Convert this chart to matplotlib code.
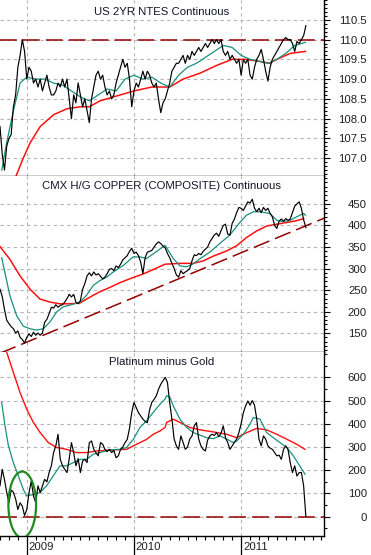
import numpy as np
import matplotlib
matplotlib.use('Agg')
import matplotlib.pyplot as plt
from matplotlib.patches import Ellipse
from matplotlib.ticker import MultipleLocator
import matplotlib.transforms as mtransforms

plt.rcParams['font.family'] = ['Liberation Sans', 'DejaVu Sans']

# x axis: months since 1 Oct 2008, weekly closes
weeks = np.arange(138) * 0.25

notes = [107.8, 107.1, 106.7, 107.3, 107.5, 107.6, 108.3, 108.6,
         109.3, 109.6, 110.0, 109.7, 109.0, 109.3, 109.2, 108.9,
         109.0, 108.8, 109.0, 108.7, 108.9, 109.1, 108.8, 108.6,
         108.6, 108.7, 108.9, 108.8, 109.0, 108.8, 109.0, 108.5,
         108.0, 108.6, 108.4, 108.9, 108.6, 108.3, 108.5, 108.2,
         107.9, 108.5, 108.8, 109.1, 109.2, 109.0, 109.1, 108.8,
         108.6, 108.7, 108.5, 108.6, 108.9, 109.1, 109.3, 109.5,
         109.3, 109.4, 109.0, 108.3, 108.7, 108.9, 108.8, 109.0,
         109.2, 109.0, 109.2, 109.1, 108.9, 108.8, 108.9, 108.5,
         108.15, 108.4, 108.5, 108.7, 108.9, 109.2, 109.3, 109.4,
         109.4, 109.5, 109.6, 109.4, 109.6, 109.5, 109.7, 109.6,
         109.7, 109.8, 109.7, 109.8, 109.9, 109.8, 109.9, 110.0,
         109.9, 110.0, 109.9, 110.0, 109.7, 109.6, 109.7, 109.5,
         109.6, 109.5, 109.4, 109.5, 109.1, 109.5, 109.4, 109.5,
         109.1, 109.0, 109.3, 109.5, 109.6, 109.75, 109.5, 109.2,
         108.95, 109.3, 109.5, 109.6, 109.7, 109.8, 109.9, 110.0,
         110.05, 110.0, 110.0, 109.9, 109.7, 109.95, 109.9, 110.0,
         110.1, 110.35]
notes_ma_fast_m = [0.2, 0.75, 1.5, 2.25, 3, 4, 5, 6, 7, 8, 9, 10, 11, 12, 13, 14, 15, 16, 17,
                   18, 19, 20, 21, 22, 23, 24, 25, 26, 27, 28, 29, 30, 31, 32, 33, 34.2]
notes_ma_fast = [106.7, 107.4, 108.2, 108.9, 109.05, 109.0, 109.0, 108.9, 108.85, 108.7,
                 108.55, 108.45, 108.6, 108.75, 108.7, 109.0, 109.1, 109.0, 109.05, 108.9,
                 108.8, 109.1, 109.3, 109.4, 109.55, 109.7, 109.85, 109.8, 109.6, 109.5,
                 109.45, 109.4, 109.5, 109.65, 109.85, 109.93]
notes_ma_slow_m = [1.8, 2.6, 3.4, 4.5, 6, 7.5, 9, 10, 11.2, 12.7, 15, 17, 18.5, 19, 20.5,
                   22.4, 24.3, 26, 27.5, 29, 30.2, 31, 32.5, 34.2]
notes_ma_slow = [106.55, 107.0, 107.4, 107.8, 108.1, 108.25, 108.3, 108.3, 108.45, 108.55,
                 108.7, 108.8, 108.8, 108.8, 109.0, 109.15, 109.35, 109.5, 109.5, 109.45,
                 109.4, 109.5, 109.65, 109.7]

copper = [252, 235, 205, 180, 172, 165, 160, 150, 155, 140, 135, 127, 140, 148, 142, 152,
          145, 150, 145, 150, 175, 182, 195, 210, 208, 216, 210, 214, 216, 222, 230, 240,
          234, 240, 222, 218, 225, 252, 265, 283, 290, 283, 292, 285, 288, 282, 276, 280,
          288, 298, 300, 295, 306, 302, 310, 320, 325, 330, 340, 347, 335, 338, 330, 315,
          288, 325, 338, 340, 342, 350, 357, 362, 358, 352, 348, 335, 325, 312, 300, 285,
          280, 295, 288, 292, 295, 300, 318, 332, 330, 335, 332, 340, 345, 350, 362, 370,
          378, 382, 375, 388, 400, 403, 380, 378, 405, 415, 430, 442, 440, 435, 445, 455,
          452, 461, 440, 432, 440, 430, 442, 435, 440, 428, 420, 400, 393, 410, 415, 410,
          416, 412, 415, 430, 445, 450, 455, 440, 413, 395]
copper_ma_fast_m = [0.19, 1.12, 1.87, 2.61, 3.36, 4.1, 4.85, 5.6, 6.34, 7.09, 7.84, 8.96, 9.7,
                    10.45, 11.2, 11.94, 12.69, 13.8, 14.9, 15.7, 16.4, 17.5, 18.47, 19.41,
                    20.16, 20.9, 21.65, 22.4, 23.5, 24.6, 25.7, 26.9, 27.6, 28.4, 29.1, 30.2,
                    31.0, 31.7, 32.5, 33.2, 34.0, 34.2]
copper_ma_fast = [325, 236, 190, 166, 160, 157, 160, 176, 199, 211, 215, 222, 238, 261, 272,
                  280, 292, 307, 327, 327, 323, 339, 354, 323, 306, 304, 311, 323, 338, 358,
                  377, 408, 424, 432, 432, 428, 412, 409, 412, 420, 428, 424]
copper_ma_slow_m = [0, 1.12, 2.24, 3.36, 4.48, 5.6, 6.7, 7.84, 8.96, 9.7, 10.45, 11.2, 12.3,
                    13.4, 14.9, 16.0, 17.2, 18.47, 20.2, 21.65, 22.8, 23.9, 25.4, 26.5, 27.6,
                    28.8, 29.9, 31.0, 32.1, 33.2, 34.0]
copper_ma_slow = [351, 321, 283, 252, 229, 222, 218, 218, 220, 229, 238, 246, 256, 267, 279,
                  287, 298, 310, 312, 312, 318, 329, 341, 353, 372, 388, 399, 403, 407, 411,
                  416]
copper_trend_m = [0, 36.3]
copper_trend = [103, 417]

plat_gold = [133, 204, 160, 105, 60, 115, 105, 76, 31, 60, 45, 5, 31, 104, 154, 89,
             60, 133, 104, 133, 161, 150, 190, 219, 276, 305, 355, 247, 219, 204, 190, 250,
             319, 276, 219, 250, 190, 240, 247, 233, 319, 326, 290, 275, 262, 319, 312, 290,
             280, 290, 276, 285, 254, 262, 290, 300, 319, 333, 380, 448, 492, 470, 448, 434,
             420, 410, 405, 460, 492, 505, 520, 549, 570, 585, 600, 578, 492, 420, 334, 305,
             290, 348, 320, 290, 300, 334, 348, 391, 405, 334, 305, 290, 283, 330, 348, 355,
             350, 362, 345, 360, 391, 340, 319, 290, 305, 320, 334, 362, 400, 448, 477, 498,
             480, 500, 480, 420, 334, 305, 348, 334, 305, 295, 290, 276, 262, 265, 247, 290,
             305, 290, 233, 190, 219, 175, 190, 190, 133, 0]
plat_ma_fast_m = [0.19, 0.56, 0.93, 1.49, 2.05, 2.61, 2.99, 3.73, 4.48, 5.22, 5.97, 6.72,
                  7.46, 8.21, 8.96, 9.7, 10.45, 11.19, 12.31, 13.43, 14.18, 14.93, 15.67,
                  16.42, 17.16, 17.91, 18.47, 18.66, 19.03, 19.4, 20.15, 20.9, 21.65, 22.4,
                  23.14, 23.89, 24.64, 25.38, 26.13, 26.5, 27.25, 27.99, 28.36, 29.11, 29.86,
                  30.61, 31.35, 32.1, 32.85, 34.15]
plat_ma_fast = [492, 391, 308, 233, 176, 118, 89, 96, 104, 133, 176, 219, 219, 233, 247, 247,
                269, 276, 288, 290, 298, 333, 384, 413, 449, 484, 506, 521, 514, 477, 420,
                384, 362, 351, 340, 336, 348, 334, 319, 326, 355, 398, 427, 420, 362, 340,
                319, 298, 262, 183]
plat_ma_slow_m = [0.75, 1.49, 2.24, 2.99, 3.73, 4.48, 5.41, 6.34, 7.46, 8.58, 9.7, 10.82,
                  11.94, 13.06, 14.18, 14.93, 15.67, 16.42, 17.16, 17.91, 18.47, 18.66, 19.4,
                  20.15, 21.27, 22.4, 23.89, 25.38, 26.5, 27.62, 28.74, 29.86, 30.98, 32.1,
                  33.22, 34.15]
plat_ma_slow = [708, 622, 535, 463, 406, 363, 319, 298, 290, 276, 276, 283, 286, 288, 290,
                305, 319, 333, 355, 369, 384, 406, 420, 406, 384, 374, 365, 355, 340, 362,
                380, 374, 355, 334, 312, 290]

year_months = [3, 15, 27]
year_labels = ['2009', '2010', '2011']

teal = '#17907f'
red = '#ff1010'
dark_red = '#960000'
grid_c = '#b4b4b4'

fig = plt.figure(figsize=(3.71, 5.55), dpi=100)
W, H = 371, 555
right = 324
panels = [(0, 176), (176, 352), (352, 536)]
axes = []
for top, bot in panels:
    ax = fig.add_axes([0, 1 - bot / H, right / W, (bot - top) / H])
    axes.append(ax)


def style(ax, ylim, major, labels, minor, title, title_y):
    ax.set_xlim(0, 36.28)
    ax.set_ylim(*ylim)
    ax.spines['left'].set_visible(False)
    ax.spines['top'].set_visible(False)
    ax.spines['right'].set_linewidth(1.0)
    ax.spines['bottom'].set_linewidth(1.0)
    ax.yaxis.tick_right()
    ax.set_yticks(major)
    ax.set_yticklabels(labels, ha='right')
    ax.yaxis.set_minor_locator(MultipleLocator(minor))
    ax.tick_params(axis='y', which='major', length=4.3, width=0.8, pad=26.6, labelsize=8.2,
                   labelcolor='#202020')
    ax.tick_params(axis='y', which='minor', length=2.2, width=0.8)
    ax.set_xticks([])
    for v in major:
        ax.axhline(v, color=grid_c, lw=0.8, ls=(0, (3, 3)), zorder=0)
    for m in year_months:
        ax.axvline(m, color=grid_c, lw=0.8, ls=(0, (3, 3)), zorder=0)
    ax.text(0.5, title_y, title, transform=ax.transAxes, ha='center', va='center',
            fontsize=8.2, color='#141428')


ax1, ax2, ax3 = axes

notes_ticks = [107.0, 107.5, 108.0, 108.5, 109.0, 109.5, 110.0, 110.5]
style(ax1, (106.55, 111.0), notes_ticks, ['%.1f' % v for v in notes_ticks], 0.1,
      'US 2YR NTES Continuous', 0.934)
ax1.axhline(110.0, color=dark_red, lw=1.1, ls=(0, (11, 4)), zorder=1)
ax1.plot(notes_ma_slow_m, notes_ma_slow, color=red, lw=1.1, zorder=2)
ax1.plot(notes_ma_fast_m, notes_ma_fast, color=teal, lw=0.9, zorder=3)
ax1.plot(weeks, notes, color='black', lw=0.85, zorder=4)

copper_ticks = [150, 200, 250, 300, 350, 400, 450]
style(ax2, (106, 515), copper_ticks, [str(v) for v in copper_ticks], 10,
      'CMX H/G COPPER (COMPOSITE) Continuous', 0.943)
ax2.plot(copper_trend_m, copper_trend, color=dark_red, lw=1.1, ls=(0, (11, 4)), zorder=1)
ax2.plot(copper_ma_slow_m, copper_ma_slow, color=red, lw=1.1, zorder=2)
ax2.plot(copper_ma_fast_m, copper_ma_fast, color=teal, lw=0.9, zorder=3)
ax2.plot(weeks, copper, color='black', lw=0.85, zorder=4)

plat_ticks = [0, 100, 200, 300, 400, 500, 600]
style(ax3, (-83, 709), plat_ticks, [str(v) for v in plat_ticks], 50,
      'Platinum minus Gold', 0.947)
ax3.axhline(0, color=dark_red, lw=1.1, ls=(0, (11, 4)), zorder=1)
ax3.plot(plat_ma_slow_m, plat_ma_slow, color=red, lw=1.0, zorder=2)
ax3.plot(plat_ma_fast_m, plat_ma_fast, color=teal, lw=0.9, zorder=3)
ax3.plot(weeks, plat_gold, color='black', lw=0.85, zorder=4)
ax3.add_patch(Ellipse((2.49, 52), width=3.1, height=285, fill=False, ec='#1f8a1f',
                      lw=1.6, zorder=5))

# month ticks and year labels
ax3.set_xticks(year_months)
ax3.set_xticklabels([])
ax3.set_xticks(np.arange(0, 37), minor=True)
ax3.tick_params(axis='x', which='major', length=13.5, width=0.9, direction='out')
ax3.tick_params(axis='x', which='minor', length=3, width=0.8, direction='out')
trans = mtransforms.blended_transform_factory(ax3.transData, ax3.transAxes)
for m, lab in zip(year_months, year_labels):
    ax3.text(m + 0.2, -0.062, lab, transform=trans, ha='left', va='center', fontsize=8.2,
             color='#202020')

fig.savefig('out.png', dpi=100)
